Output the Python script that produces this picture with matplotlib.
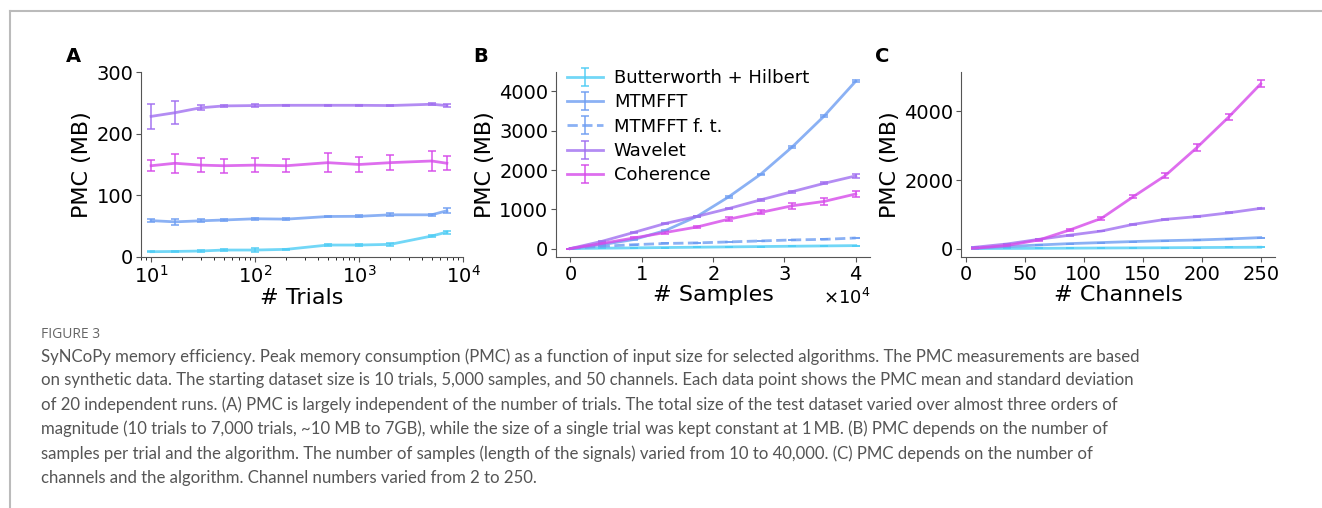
import matplotlib
matplotlib.use("Agg")
import matplotlib.pyplot as plt
from matplotlib.lines import Line2D

# ---- data ----
names = ["Butterworth + Hilbert", "MTMFFT", "MTMFFT f. t.", "Wavelet", "Coherence"]
colors = ["#4fcdf5", "#6e9ef2", "#6e9ef2", "#a06ff0", "#d64aea"]
styles = ["-", "-", "--", "-", "-"]

# panel A: number of trials
trials = [10, 17, 30, 50, 100, 200, 500, 1000, 2000, 5000, 7000]
a_butter = [8.6, 9, 9.7, 11.3, 11.3, 12.4, 19.4, 19.4, 20.5, 34, 40.4]
a_butter_sd = [1, 1, 1, 1.5, 3, 1, 1, 1, 2, 1.5, 2.5]
a_mtm = [59, 57, 58.7, 60, 62, 61.4, 65.7, 66, 68.4, 68.4, 75]
a_mtm_sd = [2.5, 5, 2.5, 1.5, 2, 1.5, 1.5, 1.5, 2.5, 2, 4]
a_wav = [228, 234, 242, 245, 245.6, 246, 246, 246, 245.6, 247.7, 245.6]
a_wav_sd = [20, 19, 4, 1.5, 2, 1, 1, 1, 1.5, 1.5, 2.5]
a_coh = [148, 152, 149, 148, 149, 148, 153, 150, 153, 155.7, 152]
a_coh_sd = [8.5, 15, 11.5, 11, 11.5, 10.5, 15, 12, 12.4, 15.6, 11.6]

# panel B: number of samples
samples = [10, 4450, 8890, 13340, 17780, 22230, 26670, 31120, 35560, 40000]
b_butter = [0, 10, 18, 27, 35, 43, 52, 60, 68, 76]
b_mtm = [0, 100, 230, 460, 820, 1320, 1890, 2590, 3370, 4260]
b_mtm_sd = [0, 10, 15, 15, 20, 20, 20, 20, 20, 20]
b_mtm_ft = [0, 60, 100, 130, 145, 170, 195, 220, 235, 270]
b_wav = [0, 185, 410, 640, 820, 1020, 1240, 1450, 1660, 1850]
b_wav_sd = [0, 10, 15, 15, 15, 20, 20, 25, 25, 50]
b_coh = [0, 130, 270, 410, 550, 750, 920, 1090, 1200, 1390]
b_coh_sd = [0, 15, 20, 30, 35, 60, 50, 70, 80, 80]

# panel C: number of channels
channels = [8, 35, 62, 88, 115, 142, 169, 196, 223, 250]
c_butter = [10, 14, 18, 22, 27, 31, 35, 40, 45, 50]
c_mtm = [20, 70, 115, 155, 185, 215, 240, 260, 290, 330]
c_wav = [50, 145, 280, 400, 520, 715, 860, 940, 1050, 1180]
c_wav_sd = [5, 5, 10, 10, 10, 10, 10, 15, 15, 20]
c_coh = [20, 100, 260, 550, 890, 1520, 2130, 2950, 3840, 4800]
c_coh_sd = [10, 15, 25, 40, 50, 50, 70, 90, 80, 100]

caption = ("SyNCoPy memory efficiency. Peak memory consumption (PMC) as a function of input size for selected algorithms. The PMC measurements are based\n"
           "on synthetic data. The starting dataset size is 10 trials, 5,000 samples, and 50 channels. Each data point shows the PMC mean and standard deviation\n"
           "of 20 independent runs. (A) PMC is largely independent of the number of trials. The total size of the test dataset varied over almost three orders of\n"
           "magnitude (10 trials to 7,000 trials, ~10 MB to 7GB), while the size of a single trial was kept constant at 1\u2009MB. (B) PMC depends on the number of\n"
           "samples per trial and the algorithm. The number of samples (length of the signals) varied from 10 to 40,000. (C) PMC depends on the number of\n"
           "channels and the algorithm. Channel numbers varied from 2 to 250.")

W, H = 1322, 508
fig = plt.figure(figsize=(W / 100, H / 100), dpi=100)


def box(l, r, t, b):
    return [l / W, 1 - b / H, (r - l) / W, (b - t) / H]


def eb(ax, x, y, sd, i, label=None):
    ax.errorbar(x, y, yerr=sd, color=colors[i], ls=styles[i], lw=2, alpha=0.8,
                capsize=3, elinewidth=1.3, capthick=1.3, label=label)


def style(ax):
    for s in ["top", "right"]:
        ax.spines[s].set_visible(False)
    for s in ["left", "bottom"]:
        ax.spines[s].set_color("#555555")
    ax.tick_params(labelsize=14, color="#555555", pad=2)


axA = fig.add_axes(box(141, 463, 72, 257))
eb(axA, trials, a_butter, a_butter_sd, 0)
eb(axA, trials, a_mtm, a_mtm_sd, 1)
eb(axA, trials, a_wav, a_wav_sd, 3)
eb(axA, trials, a_coh, a_coh_sd, 4)
axA.set_xscale("log")
axA.set_xlim(8, 1e4)
axA.set_ylim(0, 300)
axA.set_yticks([0, 100, 200, 300])
axA.set_xlabel("# Trials", fontsize=16, labelpad=1)
axA.set_ylabel("PMC (MB)", fontsize=16, labelpad=3)
style(axA)

axB = fig.add_axes(box(556, 870, 72, 257))
eb(axB, samples, b_butter, [0] * len(samples), 0, names[0])
eb(axB, samples, b_mtm, b_mtm_sd, 1, names[1])
eb(axB, samples, b_mtm_ft, [0] * len(samples), 2, names[2])
eb(axB, samples, b_wav, b_wav_sd, 3, names[3])
eb(axB, samples, b_coh, b_coh_sd, 4, names[4])
axB.set_yticks([0, 1000, 2000, 3000, 4000])
axB.set_xticks([0, 10000, 20000, 30000, 40000])
axB.ticklabel_format(axis="x", style="sci", scilimits=(0, 0), useMathText=True)
axB.xaxis.get_offset_text().set_fontsize(13)
axB.set_xlabel("# Samples", fontsize=16, labelpad=1)
axB.set_ylabel("PMC (MB)", fontsize=16, labelpad=3)
axB.legend(loc="upper left", bbox_to_anchor=(0.0, 1.075), frameon=False, fontsize=13,
           handlelength=2.0, handletextpad=0.6, labelspacing=0.35, borderaxespad=0.2)
style(axB)

axC = fig.add_axes(box(961, 1275, 72, 257))
eb(axC, channels, c_butter, [0] * len(channels), 0)
eb(axC, channels, c_mtm, [0] * len(channels), 1)
eb(axC, channels, c_wav, c_wav_sd, 3)
eb(axC, channels, c_coh, c_coh_sd, 4)
axC.set_yticks([0, 2000, 4000])
axC.set_xticks([0, 50, 100, 150, 200, 250])
axC.set_xlabel("# Channels", fontsize=16, labelpad=1)
axC.set_ylabel("PMC (MB)", fontsize=16, labelpad=3)
style(axC)

for lab, x in [("A", 66), ("B", 473), ("C", 875)]:
    fig.text(x / W, 1 - 56 / H, lab, fontsize=14, fontweight="bold", va="center")

# frame lines of the figure box
fig.add_artist(Line2D([10 / W, 1], [1 - 11 / H, 1 - 11 / H], color="#bbbbbb", lw=1.5))
fig.add_artist(Line2D([10 / W, 10 / W], [0, 1 - 11 / H], color="#bbbbbb", lw=1.5))

fig.text(41 / W, 1 - 335 / H, "FIGURE 3", fontsize=10, color="#666666",
         family="Open Sans", va="center")
fig.text(41 / W, 1 - 348 / H, caption, fontsize=12.1, color="#555555",
         family="Lato", va="top", linespacing=1.59)

fig.savefig("out.png", dpi=100)
